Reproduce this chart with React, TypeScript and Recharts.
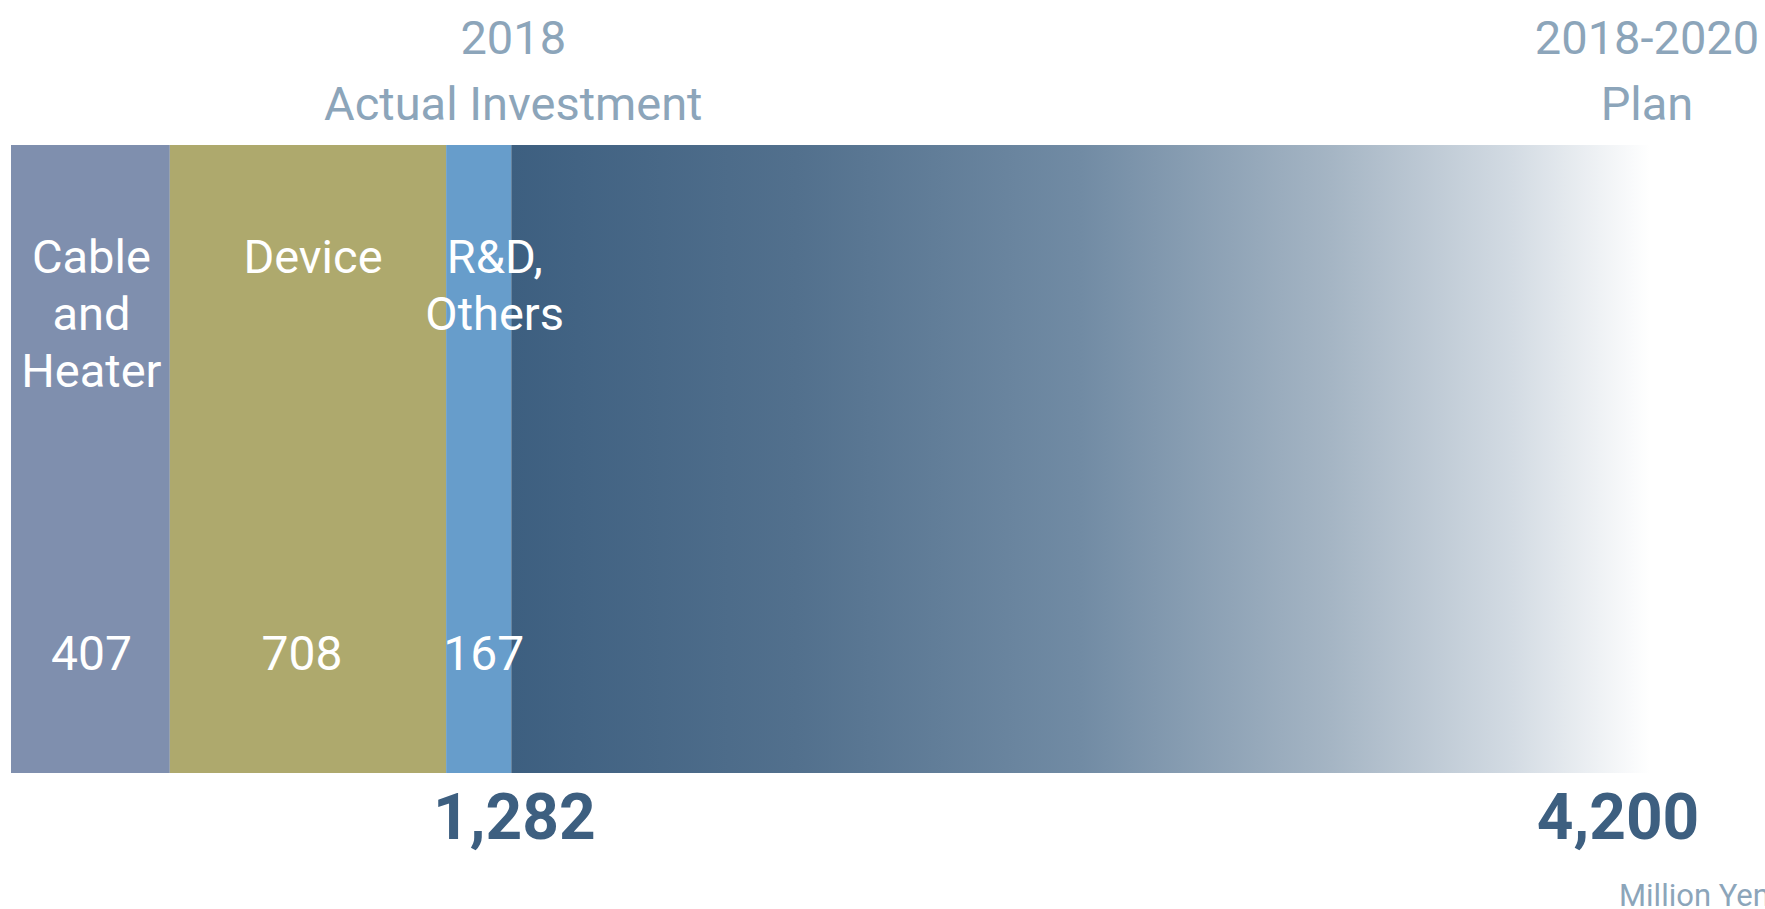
import { BarChart, Bar, XAxis, YAxis, LabelList } from "recharts";

const segmentLines = [["Cable", "and", "Heater"], ["Device"], ["R&D,", "Others"]];
const segmentKeys = ["cable", "device", "rnd"];
const actualValues = [407, 708, 167];
const planTotal = 4200;
const actualTitle = ["2018", "Actual Investment"];
const planTitle = ["2018-2020", "Plan"];
const unitLabel = "Million Yen";

const segmentColors = ["#7f8fae", "#aea96d", "#679dcb"];
const titleColor = "#8ca5ba";
const totalColor = "#3d5f80";
const font = "Roboto, 'Open Sans', sans-serif";

const actualTotal = actualValues.reduce((a, b) => a + b, 0);
const fmt = (n: number) => n.toLocaleString("en-US");

const row: Record<string, number | string> = { name: "investment", plan: planTotal - actualTotal };
segmentKeys.forEach((k, i) => (row[k] = actualValues[i]));
const data = [row];

// small horizontal nudges so text sits like the original slide
const nameDx = [1, 5, 16];
const valueDx = [1, -6, 5];

function segmentLabel(i: number) {
  return (props: any) => {
    const { x, y, width, height } = props;
    const cx = x + width / 2;
    return (
      <g fontFamily={font} fill="#ffffff" textAnchor="middle">
        {segmentLines[i].map((line, j) => (
          <text key={j} x={cx + nameDx[i]} y={y + 128 + j * 57} fontSize={47}>
            {line}
          </text>
        ))}
        <text x={cx + valueDx[i]} y={y + height - 103} fontSize={48}>
          {fmt(actualValues[i])}
        </text>
      </g>
    );
  };
}

function endLabel(title: string[], total: number, dx: number, totalDx: number, unit?: string) {
  return (props: any) => {
    const { x, y, width, height } = props;
    const ex = x + width;
    return (
      <g fontFamily={font}>
        <text x={ex + dx} y={y - 91} fontSize={47} fill={titleColor} textAnchor="middle">
          {title[0]}
        </text>
        <text x={ex + dx} y={y - 25} fontSize={47} fill={titleColor} textAnchor="middle">
          {title[1]}
        </text>
        <text
          x={ex + totalDx}
          y={y + height + 66}
          fontSize={64}
          fontWeight={700}
          fill={totalColor}
          textAnchor="middle"
        >
          {fmt(total)}
        </text>
        {unit && (
          <text x={ex - 31} y={y + height + 133} fontSize={31} fill={titleColor}>
            {unit}
          </text>
        )}
      </g>
    );
  };
}

export default function App() {
  return (
    <div style={{ position: "absolute", left: 0, top: 0, background: "#fff" }}>
      <BarChart
        width={1765}
        height={909}
        data={data}
        layout="vertical"
        margin={{ top: 145, right: 115, bottom: 136, left: 11 }}
        barCategoryGap={0}
      >
        <defs>
          <linearGradient id="planGrad" x1="0" y1="0" x2="1" y2="0">
            <stop offset="0%" stopColor="#3d5f80" />
            <stop offset="25%" stopColor="#52708d" />
            <stop offset="50%" stopColor="#718ba4" />
            <stop offset="72%" stopColor="#a5b5c4" />
            <stop offset="88%" stopColor="#d3dbe3" />
            <stop offset="100%" stopColor="#ffffff" />
          </linearGradient>
        </defs>
        <XAxis type="number" domain={[0, planTotal]} hide />
        <YAxis type="category" dataKey="name" hide />
        {segmentKeys.map((k, i) => (
          <Bar key={k} dataKey={k} stackId="a" fill={segmentColors[i]} isAnimationActive={false}>
            <LabelList dataKey={k} content={segmentLabel(i)} />
            {i === segmentKeys.length - 1 && (
              <LabelList dataKey={k} content={endLabel(actualTitle, actualTotal, 2, 3)} />
            )}
          </Bar>
        ))}
        <Bar dataKey="plan" stackId="a" fill="url(#planGrad)" isAnimationActive={false}>
          <LabelList dataKey="plan" content={endLabel(planTitle, planTotal, -3, -32, unitLabel)} />
        </Bar>
      </BarChart>
    </div>
  );
}
